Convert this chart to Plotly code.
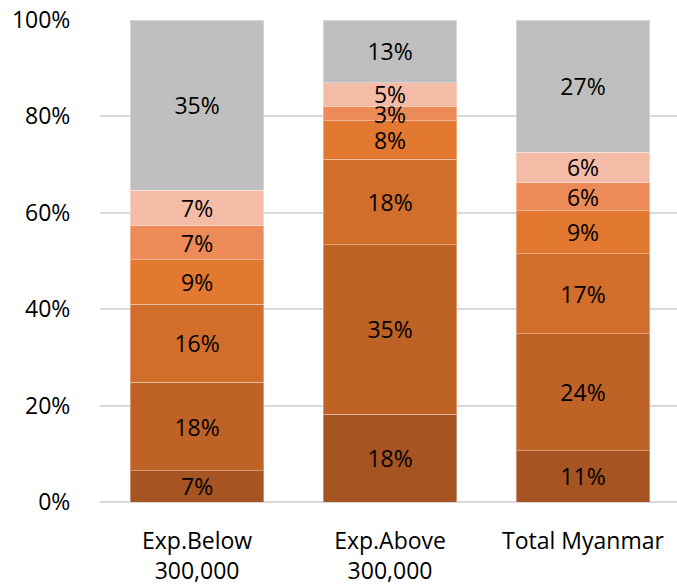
import plotly.graph_objects as go

# Share of households by segment, per expenditure group (percent)
groups = ["Exp.Below<br>300,000", "Exp.Above<br>300,000", "Total Myanmar"]
segment_names = ["S1", "S2", "S3", "S4", "S5", "S6", "S7"]
seg1 = [6.5, 18.2, 10.6]
seg2 = [18.3, 35.2, 24.3]
seg3 = [16.2, 17.7, 16.6]
seg4 = [9.3, 8.0, 8.9]
seg5 = [7.0, 3.0, 5.8]
seg6 = [7.4, 4.9, 6.4]
seg7 = [35.3, 13.0, 27.4]
series = [seg1, seg2, seg3, seg4, seg5, seg6, seg7]

colors = ["#A65421", "#BF6226", "#D26E2B", "#E37830", "#EC8B57", "#F4BBA6", "#BFBFBF"]
y_ticks = [0, 20, 40, 60, 80, 100]

FONT = "Open Sans"
FS = 23
x_pos = list(range(len(groups)))

fig = go.Figure()
for name, vals, col in zip(segment_names, series, colors):
    fig.add_trace(go.Bar(
        x=x_pos, y=vals, name=name, width=0.69,
        marker=dict(color=col, line=dict(color="rgba(255,255,255,0.35)", width=1)),
        text=vals, texttemplate="%{y:.0f}%",
        textposition="inside", insidetextanchor="middle", textangle=0,
        constraintext="none",
        textfont=dict(family=FONT, size=FS, color="black"),
        hoverinfo="skip",
    ))

fig.update_layout(
    barmode="stack",
    width=677, height=585,
    margin=dict(l=100, r=0, t=20, b=83),
    paper_bgcolor="white", plot_bgcolor="white",
    showlegend=False,
    uniformtext=dict(minsize=FS, mode="show"),
    font=dict(family=FONT, size=FS, color="black"),
)
fig.update_xaxes(
    tickmode="array", tickvals=x_pos, ticktext=groups,
    range=[-0.503, 2.487],
    showgrid=False, zeroline=False, showline=False,
    ticks="outside", ticklen=18, tickcolor="rgba(0,0,0,0)",
    tickfont=dict(family=FONT, size=FS, color="black"),
)
fig.update_yaxes(
    range=[0, 100],
    tickmode="array", tickvals=y_ticks,
    ticktext=[f"{v}%" for v in y_ticks],
    showgrid=True, gridcolor="#D9D9D9", gridwidth=1.5,
    zeroline=True, zerolinecolor="#D9D9D9", zerolinewidth=1.5,
    showline=False,
    ticks="outside", ticklen=24, tickcolor="rgba(0,0,0,0)",
    tickfont=dict(family=FONT, size=FS, color="black"),
)

fig.write_html("out.html")
